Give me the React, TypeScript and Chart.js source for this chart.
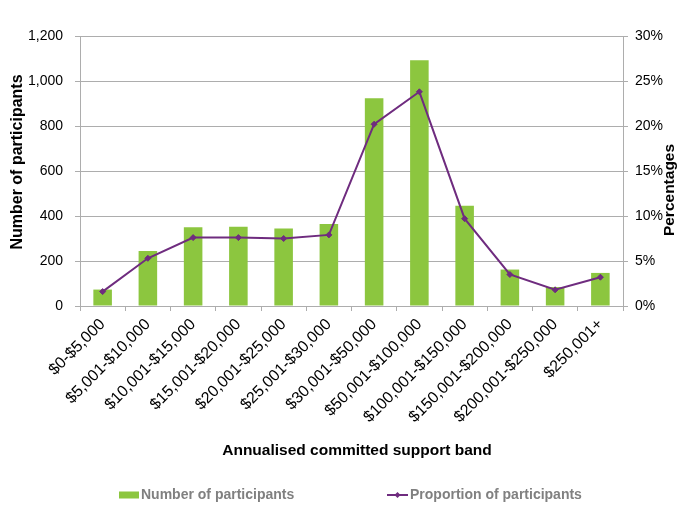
import React, { useEffect, useRef } from "react";
import { Chart, registerables } from "chart.js";

Chart.register(...registerables);

const categories = [
  "$0-$5,000",
  "$5,001-$10,000",
  "$10,001-$15,000",
  "$15,001-$20,000",
  "$20,001-$25,000",
  "$25,001-$30,000",
  "$30,001-$50,000",
  "$50,001-$100,000",
  "$100,001-$150,000",
  "$150,001-$200,000",
  "$200,001-$250,000",
  "$250,001+",
];
const participants = [73, 244, 350, 352, 344, 364, 923, 1092, 446, 162, 84, 147];
const proportion = [1.6, 5.3, 7.6, 7.6, 7.5, 7.9, 20.2, 23.8, 9.7, 3.5, 1.8, 3.2];

const seriesNames = ["Number of participants", "Proportion of participants"];
const xTitle = "Annualised committed support band";
const yLeftTitle = "Number of participants";
const yRightTitle = "Percentages";

const GREEN = "#8CC63F";
const PURPLE = "#6F2C7F";
const GRID = "#ADADAD";
const FONT = "'Liberation Sans', Arial, sans-serif";

const extrasPlugin = {
  id: "extras",
  afterDraw(chart: any) {
    const ctx = chart.ctx;
    // left axis title
    ctx.save();
    ctx.translate(18, 162);
    ctx.rotate(-Math.PI / 2);
    ctx.font = `bold 16px ${FONT}`;
    ctx.fillStyle = "#000";
    ctx.textAlign = "center";
    ctx.textBaseline = "middle";
    ctx.fillText(yLeftTitle, 0, 0);
    ctx.restore();

    // right axis title
    ctx.save();
    ctx.translate(670, 190);
    ctx.rotate(-Math.PI / 2);
    ctx.font = `bold 15.5px ${FONT}`;
    ctx.fillStyle = "#000";
    ctx.textAlign = "center";
    ctx.textBaseline = "middle";
    ctx.fillText(yRightTitle, 0, 0);
    ctx.restore();

    // x axis title
    ctx.save();
    ctx.font = `bold 15.5px ${FONT}`;
    ctx.fillStyle = "#000";
    ctx.textAlign = "center";
    ctx.textBaseline = "middle";
    ctx.fillText(xTitle, 357, 451);
    ctx.restore();

    // legend
    ctx.save();
    const ly = 495;
    ctx.fillStyle = GREEN;
    ctx.fillRect(119, ly - 3.5, 20, 7);
    ctx.font = `bold 14px ${FONT}`;
    ctx.fillStyle = "#808080";
    ctx.textAlign = "left";
    ctx.textBaseline = "middle";
    ctx.fillText(seriesNames[0], 141, ly);
    ctx.strokeStyle = PURPLE;
    ctx.lineWidth = 2;
    ctx.beginPath();
    ctx.moveTo(387, ly);
    ctx.lineTo(408, ly);
    ctx.stroke();
    ctx.fillStyle = PURPLE;
    ctx.beginPath();
    ctx.moveTo(397.5, ly - 3);
    ctx.lineTo(400.5, ly);
    ctx.lineTo(397.5, ly + 3);
    ctx.lineTo(394.5, ly);
    ctx.closePath();
    ctx.fill();
    ctx.fillStyle = "#808080";
    ctx.fillText(seriesNames[1], 410, ly);
    ctx.restore();
  },
};

export default function App() {
  const ref = useRef<HTMLCanvasElement>(null);
  useEffect(() => {
    if (!ref.current) return;
    const chart = new Chart(ref.current, {
      type: "bar",
      data: {
        labels: categories,
        datasets: [
          {
            type: "line",
            label: seriesNames[1],
            data: proportion,
            yAxisID: "y1",
            borderColor: PURPLE,
            backgroundColor: PURPLE,
            borderWidth: 2,
            pointStyle: "rectRot",
            pointRadius: 3,
            pointBorderWidth: 1,
            tension: 0,
            order: 0,
          } as any,
          {
            type: "bar",
            label: seriesNames[0],
            data: participants,
            yAxisID: "y",
            backgroundColor: GREEN,
            barPercentage: 0.41,
            categoryPercentage: 1,
            order: 1,
          },
        ],
      },
      options: {
        responsive: false,
        animation: false,
        layout: { padding: { top: 36, left: 0, right: 0, bottom: 45 } },
        plugins: {
          legend: { display: false },
          tooltip: { enabled: false },
        },
        scales: {
          x: {
            offset: true,
            grid: {
              offset: true,
              drawOnChartArea: false,
              tickLength: 5,
              color: GRID,
            },
            border: { color: GRID },
            ticks: {
              minRotation: 45,
              maxRotation: 45,
              autoSkip: false,
              padding: 4,
              color: "#000",
              font: { family: FONT, size: 16 },
            },
            afterFit: (s: any) => {
              s.height = 155;
            },
          },
          y: {
            position: "left",
            min: 0,
            max: 1200,
            ticks: {
              stepSize: 200,
              padding: 12,
              color: "#000",
              font: { family: FONT, size: 14 },
              callback: (v: any) => Number(v).toLocaleString("en-US"),
            },
            grid: { color: GRID, tickLength: 5 },
            border: { color: GRID },
            afterFit: (s: any) => {
              s.width = 80;
            },
          },
          y1: {
            position: "right",
            min: 0,
            max: 30,
            ticks: {
              stepSize: 5,
              padding: 7,
              color: "#000",
              font: { family: FONT, size: 14 },
              callback: (v: any) => `${v}%`,
            },
            grid: { color: GRID, tickLength: 5, drawOnChartArea: false },
            border: { color: GRID },
            afterFit: (s: any) => {
              s.width = 66;
            },
          },
        },
      },
      plugins: [extrasPlugin],
    });
    return () => chart.destroy();
  }, []);
  return (
    <div style={{ position: "fixed", left: 0, top: 0, width: 689, height: 506, background: "#fff" }}>
      <canvas ref={ref} width={689} height={506} style={{ display: "block" }} />
    </div>
  );
}
